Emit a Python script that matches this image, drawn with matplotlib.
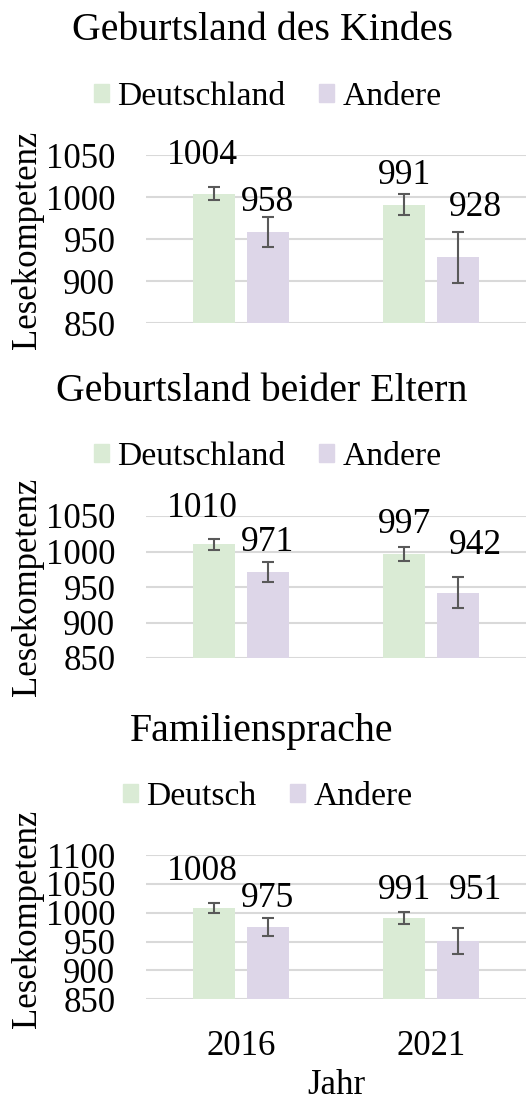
import numpy as np
import matplotlib
matplotlib.use("Agg")
import matplotlib.pyplot as plt
from matplotlib.patches import Patch

plt.rcParams['font.family'] = ['Liberation Serif', 'DejaVu Serif']

# data
years = ['2016', '2021']
titles = ['Geburtsland des Kindes', 'Geburtsland beider Eltern', 'Familiensprache']
legend_first = ['Deutschland', 'Deutschland', 'Deutsch']
legend_second = 'Andere'

first_vals = [[1004, 991], [1010, 997], [1008, 991]]
first_err = [[8, 12], [8, 10], [9, 11]]
second_vals = [[958, 928], [971, 942], [975, 951]]
second_err = [[18, 30], [14, 22], [15, 23]]

yticks = [[850, 900, 950, 1000, 1050],
          [850, 900, 950, 1000, 1050],
          [850, 900, 950, 1000, 1050, 1100]]

# label placement (data y of label centre, x shift in category units)
first_lab_y = [[1050, 1026], [1060, 1038], [1071, 1039]]
second_lab_y = [[993, 988], [1013, 1009], [1025, 1039]]
first_lab_dx = [-0.06, 0.0]
second_lab_dx = [0.0, 0.09]

green = '#DAEBD5'
purple = '#DDD6E8'
errc = '#595959'
gridc = '#D9D9D9'

W, H = 531, 1099
fig = plt.figure(figsize=(W / 100, H / 100), dpi=100)

# axes boxes in pixels: (top, bottom)
boxes = [(155, 323), (516, 658), (855, 999.3)]
title_y = [30, 391, 731]
legend_y = [97, 457, 797]
ylab_y = [240, 587, 919]
left, right = 146, 526

x = np.arange(len(years))
off = 0.142
bw = 0.221

for i in range(3):
    top, bot = boxes[i]
    ax = fig.add_axes([left / W, 1 - bot / H, (right - left) / W, (bot - top) / H])
    ax.bar(x - off, first_vals[i], bw, color=green, zorder=2)
    ax.bar(x + off, second_vals[i], bw, color=purple, zorder=2)
    ax.errorbar(x - off, first_vals[i], yerr=first_err[i], fmt='none', ecolor=errc,
                elinewidth=1.5, capsize=4, capthick=1.5, zorder=3)
    ax.errorbar(x + off, second_vals[i], yerr=second_err[i], fmt='none', ecolor=errc,
                elinewidth=1.5, capsize=4, capthick=1.5, zorder=3)
    for j in range(len(years)):
        ax.text(x[j] - off + first_lab_dx[j], first_lab_y[i][j], str(first_vals[i][j]),
                ha='center', va='center', fontsize=25.5, zorder=4)
        ax.text(x[j] + off + second_lab_dx[j], second_lab_y[i][j], str(second_vals[i][j]),
                ha='center', va='center', fontsize=25.5, zorder=4)
    ax.set_xlim(-0.5, 1.5)
    ax.set_ylim(yticks[i][0], yticks[i][-1])
    ax.set_yticks(yticks[i])
    ax.yaxis.grid(True, color=gridc, linewidth=1.5, zorder=0)
    ax.set_axisbelow(True)
    for s in ax.spines.values():
        s.set_visible(False)
    ax.tick_params(axis='both', length=0, labelsize=25)
    ax.tick_params(axis='y', pad=22)
    ax.set_xticks(x)
    if i == 2:
        ax.set_xticklabels(years)
        ax.tick_params(axis='x', pad=22)
        ax.set_xlabel('Jahr', fontsize=25)
        ax.xaxis.set_label_coords(0.5, (bot - 1069) / (bot - top))
    else:
        ax.set_xticklabels([])
    ax.set_ylabel('Lesekompetenz', fontsize=25)
    ax.yaxis.set_label_coords((44 - left) / (right - left), (bot - ylab_y[i]) / (bot - top))

    fig.text(262 / W, 1 - title_y[i] / H, titles[i], ha='center', va='center', fontsize=28.7)
    handles = [Patch(color=green), Patch(color=purple)]
    fig.legend(handles, [legend_first[i], legend_second], loc='center',
               bbox_to_anchor=(268 / W, 1 - legend_y[i] / H), ncol=2, frameon=False,
               fontsize=24.2, handlelength=0.45, handleheight=0.45, handletextpad=0.25,
               columnspacing=1.0, borderaxespad=0, borderpad=0)

fig.savefig('out.png', dpi=100)
